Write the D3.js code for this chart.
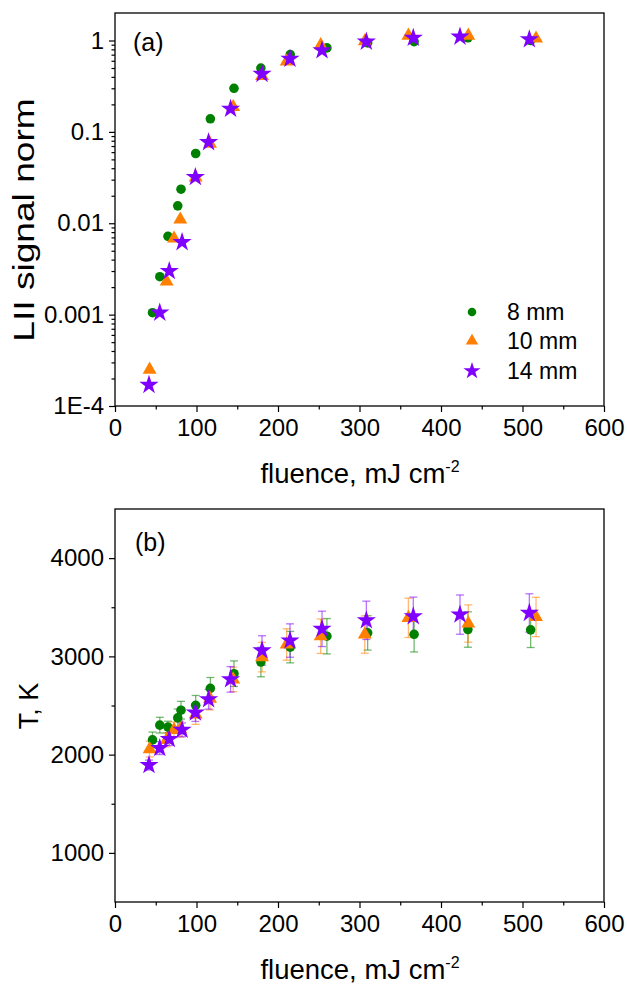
<!DOCTYPE html>
<html><head><meta charset="utf-8">
<script src="https://cdn.jsdelivr.net/npm/d3@7"></script>
<style>
html,body{margin:0;padding:0;background:#fff;}
svg text{font-family:"Liberation Sans",Arial,sans-serif;fill:#000;}
</style></head>
<body><svg id="c" width="627" height="984"></svg>
<script>
// ---- data ----
const seriesNames = ["8 mm", "10 mm", "14 mm"];
const fluence8  = [46, 55, 65, 77, 81, 99, 117, 146, 179, 215, 260, 310, 367, 433, 510];
const lii8      = [0.00105, 0.0026, 0.0072, 0.0155, 0.0236, 0.058, 0.139, 0.30, 0.50, 0.70, 0.83, 0.94, 0.97, 1.07, 1.0];
const temp8     = [2150, 2300, 2280, 2374, 2452, 2502, 2675, 2824, 2942, 3094, 3205, 3239, 3225, 3273, 3270];
const err8      = [80, 80, 60, 90, 90, 100, 110, 130, 150, 160, 180, 175, 180, 180, 180];

const fluence10 = [42.5, 63.4, 72.4, 80.1, 99, 116.6, 145, 180.4, 210.6, 252.4, 306.5, 360, 433.5, 516.6];
const lii10     = [2.5e-4, 0.0023, 0.0068, 0.011, 0.0316, 0.074, 0.187, 0.41, 0.59, 0.89, 0.98, 1.13, 1.13, 1.05];
const temp10    = [2056, 2150, 2252, 2259, 2408, 2570, 2766, 2992, 3121, 3205, 3222, 3392, 3334, 3401];
const err10     = [80, 70, 80, 80, 100, 115, 125, 150, 160, 175, 190, 200, 190, 200];

const fluence14 = [41.7, 54.9, 66.6, 82.3, 98.6, 114.8, 141.8, 180.4, 214.7, 254, 308.4, 366, 423.3, 508.4];
const lii14     = [1.7e-4, 0.00105, 0.003, 0.0062, 0.032, 0.077, 0.179, 0.43, 0.63, 0.78, 0.97, 1.07, 1.1, 1.03];
const temp14    = [1894, 2066, 2158, 2252, 2428, 2563, 2766, 3060, 3161, 3280, 3367, 3408, 3425, 3442];
const err14     = [50, 65, 65, 70, 90, 100, 130, 150, 170, 180, 195, 195, 200, 195];

const xTicks = [0, 100, 200, 300, 400, 500, 600];
const xMinor = [50, 150, 250, 350, 450, 550];
const liiTicks = [1e-4, 1e-3, 1e-2, 0.1, 1];
const liiTickLabels = ["1E-4", "0.001", "0.01", "0.1", "1"];
const tTicks = [1000, 2000, 3000, 4000];
const tMinor = [1500, 2500, 3500];

const colors = ["#008000", "#ff7f00", "#8000ff"];
const symbols = [d3.symbolCircle, d3.symbolTriangle, d3.symbolStar];
const symSizes = [72, 84, 115];

const series = [
  {f: fluence8,  lii: lii8,  t: temp8,  e: err8},
  {f: fluence10, lii: lii10, t: temp10, e: err10},
  {f: fluence14, lii: lii14, t: temp14, e: err14}
];

// ---- layout ----
const svg = d3.select("#c");
const L = 115, R = 604;
const topP = {t: 13, b: 406};
const botP = {t: 509, b: 902};
const TICKFS = 24;

const x = d3.scaleLinear().domain([0, 600]).range([L, R]);
const yA = d3.scaleLog().domain([1e-4, 2]).range([topP.b, topP.t]);
const yB = d3.scaleLinear().domain([500, 4500]).range([botP.b, botP.t]);

function frame(p) {
  svg.append("rect").attr("x", L).attr("y", p.t).attr("width", R - L).attr("height", p.b - p.t)
    .attr("fill", "none").attr("stroke", "#000").attr("stroke-width", 1.3);
}

function styleAxis(g) {
  g.selectAll(".domain").remove();
  g.selectAll("line").attr("stroke", "#000").attr("stroke-width", 1.2);
  g.selectAll("text").attr("font-size", TICKFS).attr("font-family", "Liberation Sans, Arial, sans-serif").attr("fill", "#000");
}

function xAxis(p) {
  const g = svg.append("g").attr("transform", `translate(0,${p.b})`);
  g.call(d3.axisBottom(x).tickValues(xTicks).tickSize(6).tickPadding(7).tickFormat(d3.format("d")));
  g.append("g").call(d3.axisBottom(x).tickValues(xMinor).tickSize(3.5).tickFormat(""));
  styleAxis(g);
  svg.append("text").attr("x", 360).attr("y", p.b + 77).attr("text-anchor", "middle")
    .attr("font-size", 27.5)
    .html('fluence, mJ cm<tspan dy="-11" font-size="16">-2</tspan>');
}

// top panel
frame(topP);
xAxis(topP);
{
  const g = svg.append("g").attr("transform", `translate(${L},0)`);
  g.call(d3.axisLeft(yA).tickValues(liiTicks).tickSize(6).tickPadding(5)
    .tickFormat((d, i) => liiTickLabels[i]));
  const minors = [];
  for (let e = -4; e < 0; e++) for (let m = 2; m <= 9; m++) minors.push(m * Math.pow(10, e));
  g.append("g").call(d3.axisLeft(yA).tickValues(minors).tickSize(3.5).tickFormat(""));
  styleAxis(g);
  svg.append("text").attr("transform", `translate(34,${220}) rotate(-90) scale(1.28,1)`)
    .attr("text-anchor", "middle").attr("font-size", 29)
    .text("LII signal norm");
  svg.append("text").attr("x", 133).attr("y", 51).attr("font-size", 25).text("(a)");
}

// bottom panel
frame(botP);
xAxis(botP);
{
  const g = svg.append("g").attr("transform", `translate(${L},0)`);
  g.call(d3.axisLeft(yB).tickValues(tTicks).tickSize(6).tickPadding(5).tickFormat(d3.format("d")));
  g.append("g").call(d3.axisLeft(yB).tickValues(tMinor).tickSize(3.5).tickFormat(""));
  styleAxis(g);
  svg.append("text").attr("transform", `translate(38,${706}) rotate(-90)`)
    .attr("text-anchor", "middle").attr("font-size", 27).text("T, K");
  svg.append("text").attr("x", 135).attr("y", 551).attr("font-size", 25).text("(b)");
}

// top markers
series.forEach((s, i) => {
  svg.append("g").selectAll("path").data(s.f.map((f, j) => [f, s.lii[j]])).join("path")
    .attr("transform", d => `translate(${x(d[0])},${yA(d[1])})`)
    .attr("d", d3.symbol().type(symbols[i]).size(symSizes[i])())
    .attr("fill", colors[i]);
});

// bottom error bars
series.forEach((s, i) => {
  const g = svg.append("g").attr("stroke", colors[i]).attr("stroke-opacity", 0.55).attr("stroke-width", 1.3).attr("fill", "none");
  s.f.forEach((f, j) => {
    const cx = x(f), y1 = yB(s.t[j] + s.e[j]), y2 = yB(s.t[j] - s.e[j]);
    g.append("line").attr("x1", cx).attr("x2", cx).attr("y1", y1).attr("y2", y2);
    g.append("line").attr("x1", cx - 4).attr("x2", cx + 4).attr("y1", y1).attr("y2", y1);
    g.append("line").attr("x1", cx - 4).attr("x2", cx + 4).attr("y1", y2).attr("y2", y2);
  });
});
// bottom markers
series.forEach((s, i) => {
  svg.append("g").selectAll("path").data(s.f.map((f, j) => [f, s.t[j]])).join("path")
    .attr("transform", d => `translate(${x(d[0])},${yB(d[1])})`)
    .attr("d", d3.symbol().type(symbols[i]).size(symSizes[i])())
    .attr("fill", colors[i]);
});

// legend
const legY = [312, 341, 371];
seriesNames.forEach((n, i) => {
  svg.append("path").attr("transform", `translate(472,${legY[i]})`)
    .attr("d", d3.symbol().type(symbols[i]).size(symSizes[i] * 0.8)()).attr("fill", colors[i]);
  svg.append("text").attr("x", 507).attr("y", legY[i] + 8).attr("font-size", 23).text(n);
});
</script></body></html>
